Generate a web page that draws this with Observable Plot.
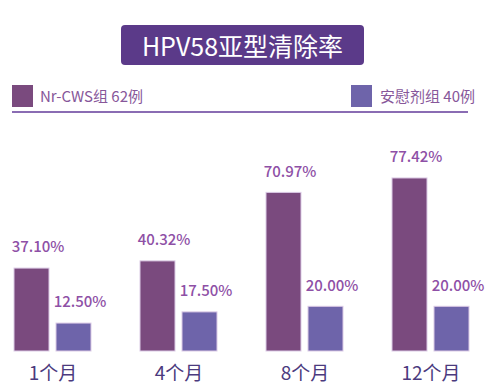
<!DOCTYPE html>
<html>
<head>
<meta charset="utf-8">
<script src="https://cdn.jsdelivr.net/npm/d3@7"></script>
<script src="https://cdn.jsdelivr.net/npm/@observablehq/plot@0.6"></script>
<style>
  html, body { margin: 0; padding: 0; background: #fff; }
  body { width: 500px; height: 391px; position: relative; overflow: hidden; font-family: "Noto Sans CJK SC", "Noto Sans", sans-serif; }
  #header { position: relative; width: 500px; height: 115px; }
  #title { position: absolute; left: 121px; top: 25px; width: 243px; height: 40px; background: #5b3a89; border-radius: 4px;
           color: #fff; font-size: 25px; line-height: 40px; text-align: center; font-weight: 400; }
  .sw { position: absolute; top: 85px; width: 21px; height: 22px; }
  .lt { position: absolute; top: 85px; height: 22px; line-height: 22px; font-size: 15px; color: #87579a; }
  #rule { position: absolute; left: 12px; top: 111px; width: 456px; height: 2px; background: #8a6cb3; }
  #chart svg { display: block; }
</style>
</head>
<body>
<div id="header">
  <div id="title"></div>
  <div class="sw" id="sw1" style="left:12px"></div>
  <div class="lt" id="lt1" style="left:40px"></div>
  <div class="sw" id="sw2" style="left:351px"></div>
  <div class="lt" id="lt2" style="left:380px"></div>
  <div id="rule"></div>
</div>
<div id="chart"></div>
<script>
const title = "HPV58亚型清除率";
const months = ["1个月", "4个月", "8个月", "12个月"];
const groups = ["Nr-CWS组 62例", "安慰剂组 40例"];
const nrcws = [37.10, 40.32, 70.97, 77.42];
const placebo = [12.50, 17.50, 20.00, 20.00];
const colors = ["#7a4a7e", "#6e64aa"];

document.getElementById("title").textContent = title;
document.getElementById("sw1").style.background = colors[0];
document.getElementById("sw2").style.background = colors[1];
document.getElementById("lt1").textContent = groups[0];
document.getElementById("lt2").textContent = groups[1];

const data = [];
months.forEach((m, i) => {
  data.push({month: m, group: groups[0], value: nrcws[i]});
  data.push({month: m, group: groups[1], value: placebo[i]});
});

const chart = Plot.plot({
  width: 500,
  height: 276,
  marginLeft: 13,
  marginRight: 31,
  marginTop: 12.5,
  marginBottom: 40,
  style: {fontFamily: '"Noto Sans CJK SC", "Noto Sans", sans-serif', background: "#fff"},
  fx: {domain: months, paddingInner: 0.391, paddingOuter: 0, label: null},
  x: {domain: groups, paddingInner: 0.1667, paddingOuter: 0, axis: null},
  y: {domain: [0, 100], axis: null},
  color: {domain: groups, range: colors},
  marks: [
    Plot.barY(data, {fx: "month", x: "group", y: "value", fill: "group", stroke: "#dccbe6", strokeWidth: 1}),
    Plot.text(data, {fx: "month", x: "group", y: "value", text: d => d.value.toFixed(2) + "%",
      dy: -21, dx: 6, fill: "#8e50a6", fontSize: 15, fontWeight: 500}),
    Plot.axisFx({anchor: "bottom", tickSize: 0, tickPadding: 15, fontSize: 19, fill: "#4b3a7e", label: null})
  ]
});
document.getElementById("chart").appendChild(chart);
</script>
</body>
</html>
